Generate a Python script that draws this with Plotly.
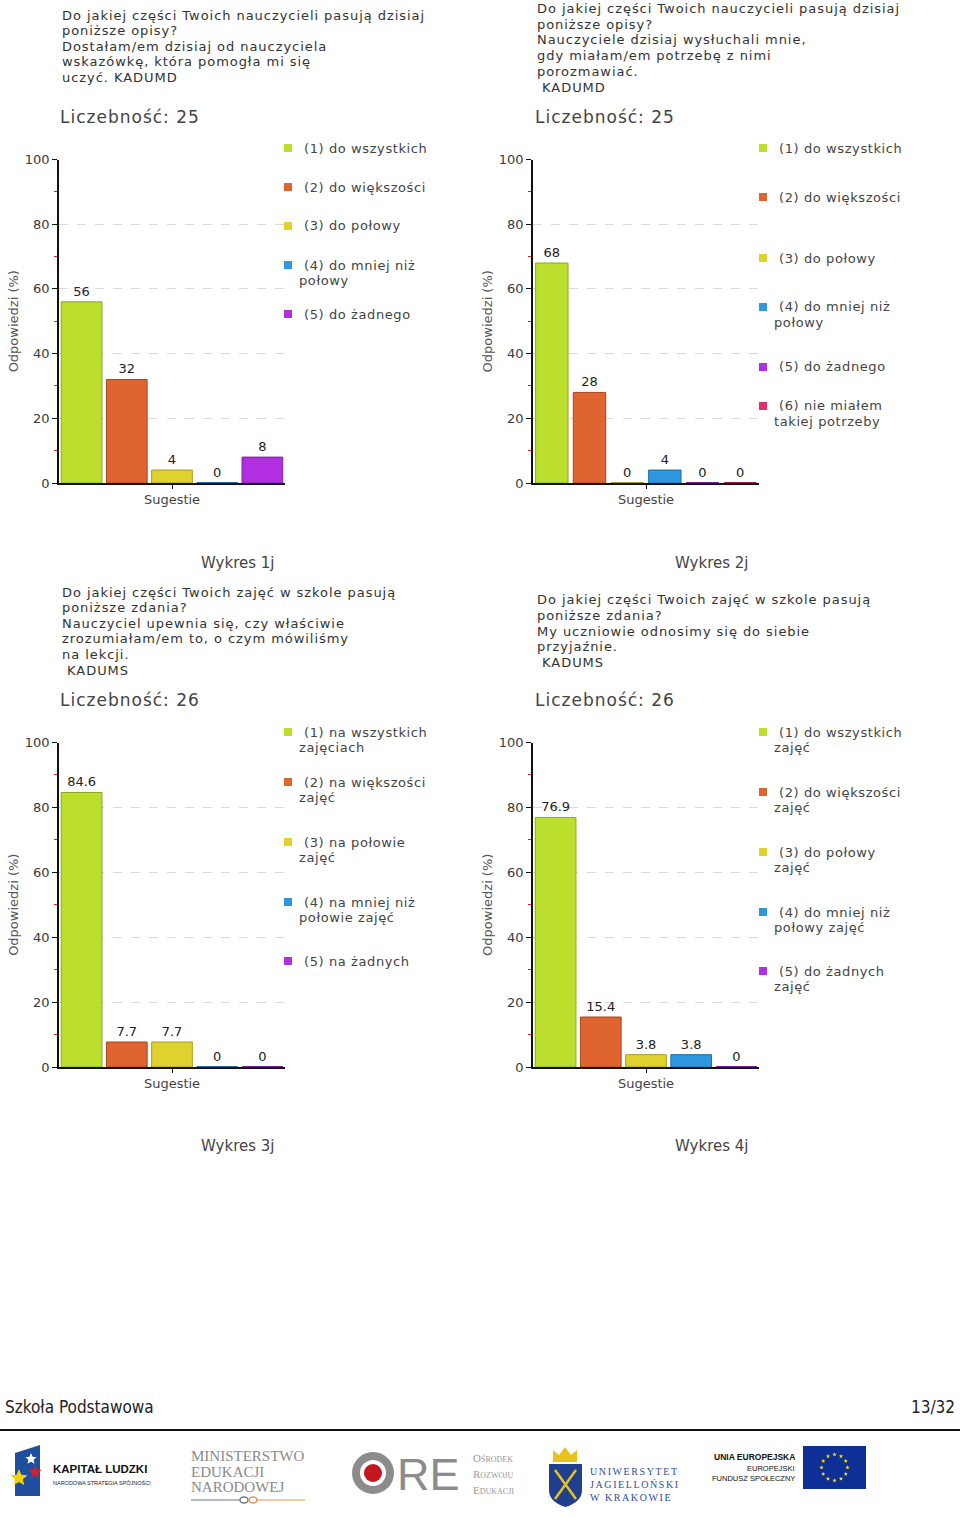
import math
import plotly.graph_objects as go

W, H = 960, 1518

# ---------------- data ----------------
cats1 = ["(1) do wszystkich", "(2) do większości", "(3) do połowy",
         "(4) do mniej niż<br>połowy", "(5) do żadnego"]
vals1 = [56, 32, 4, 0, 8]

cats2 = ["(1) do wszystkich", "(2) do większości", "(3) do połowy",
         "(4) do mniej niż<br>połowy", "(5) do żadnego",
         "(6) nie miałem<br>takiej potrzeby"]
vals2 = [68, 28, 0, 4, 0, 0]

cats3 = ["(1) na wszystkich<br>zajęciach", "(2) na większości<br>zajęć",
         "(3) na połowie<br>zajęć", "(4) na mniej niż<br>połowie zajęć",
         "(5) na żadnych"]
vals3 = [84.6, 7.7, 7.7, 0, 0]

cats4 = ["(1) do wszystkich<br>zajęć", "(2) do większości<br>zajęć",
         "(3) do połowy<br>zajęć", "(4) do mniej niż<br>połowy zajęć",
         "(5) do żadnych<br>zajęć"]
vals4 = [76.9, 15.4, 3.8, 3.8, 0]

counts = [25, 25, 26, 26]
chart_names = ["Wykres 1j", "Wykres 2j", "Wykres 3j", "Wykres 4j"]
x_tick_label = "Sugestie"
y_title = "Odpowiedzi (%)"
y_ticks = [0, 20, 40, 60, 80, 100]

q1 = ["Do jakiej części Twoich nauczycieli pasują dzisiaj", "poniższe opisy?",
      "Dostałam/em dzisiaj od nauczyciela", "wskazówkę, która pomogła mi się",
      "uczyć. KADUMD"]
q2 = ["Do jakiej części Twoich nauczycieli pasują dzisiaj", "poniższe opisy?",
      "Nauczyciele dzisiaj wysłuchali mnie,", "gdy miałam/em potrzebę z nimi",
      "porozmawiać.", "\u00a0KADUMD"]
q3 = ["Do jakiej części Twoich zajęć w szkole pasują", "poniższe zdania?",
      "Nauczyciel upewnia się, czy właściwie", "zrozumiałam/em to, o czym mówiliśmy",
      "na lekcji.", "\u00a0KADUMS"]
q4 = ["Do jakiej części Twoich zajęć w szkole pasują", "poniższe zdania?",
      "My uczniowie odnosimy się do siebie", "przyjaźnie.", "\u00a0KADUMS"]

footer_left = "Szkoła Podstawowa"
footer_right = "13/32"

# ---------------- styles ----------------
FILL = ["#BCDF2E", "#E0642F", "#E0D22E", "#2E97DF", "#B12FE0", "#E02F6D"]
EDGE = ["#8AA81C", "#A8451A", "#A89C18", "#1B6CA8", "#7C1CA6", "#A81C4C"]
FONT = "DejaVu Sans, Verdana, sans-serif"


def px(x):
    return x / W


def py(y):
    return 1 - y / H


def spaced(s, ls):
    return f"<span style='letter-spacing:{ls}px'>{s}</span>"


charts = [
    dict(cats=cats1, vals=vals1, q=q1, x0=59, x1=285, yt=159.5, yb=483, qx=62, qy=15, qs=15.6,
         lx=288, ly=[148, 187, 226, 265, 314], bw=0.9),
    dict(cats=cats2, vals=vals2, q=q2, x0=533, x1=759, yt=159.5, yb=483, qx=537, qy=8.5, qs=15.7,
         lx=763, ly=[148, 197, 258, 307, 367, 406], bw=0.86),
    dict(cats=cats3, vals=vals3, q=q3, x0=59, x1=285, yt=742.5, yb=1067, qx=62, qy=592, qs=15.6,
         lx=288, ly=[732, 782, 842, 902, 961], bw=0.9),
    dict(cats=cats4, vals=vals4, q=q4, x0=533, x1=759, yt=742.5, yb=1067, qx=537, qy=600, qs=15.5,
         lx=763, ly=[732, 792, 852, 912, 971], bw=0.9),
]

fig = go.Figure()
annotations = []
shapes = []

for k, c in enumerate(charts):
    n = len(c["vals"])
    xa = "x" if k == 0 else f"x{k+1}"
    ya = "y" if k == 0 else f"y{k+1}"
    idx = list(range(n))
    fig.add_trace(go.Bar(
        x=idx, y=c["vals"], width=c["bw"],
        marker=dict(color=FILL[:n], line=dict(color=EDGE[:n], width=1)),
        text=[f"{v:g}" for v in c["vals"]], textposition="outside",
        textfont=dict(family=FONT, size=13, color="#222"),
        constraintext="none", cliponaxis=False,
        xaxis=xa, yaxis=ya, showlegend=False, hoverinfo="skip",
    ))
    # zero-valued categories drawn as a thin line on the baseline
    for i, v in enumerate(c["vals"]):
        if v == 0:
            fig.add_trace(go.Scatter(
                x=[i - c["bw"] / 2, i + c["bw"] / 2], y=[v, v], mode="lines",
                line=dict(color=EDGE[i], width=2), xaxis=xa, yaxis=ya,
                showlegend=False, hoverinfo="skip", cliponaxis=False,
            ))

    axkey = "xaxis" if k == 0 else f"xaxis{k+1}"
    aykey = "yaxis" if k == 0 else f"yaxis{k+1}"
    fig.layout[axkey] = dict(
        domain=[px(c["x0"]), px(c["x1"])], range=[-0.5, n - 0.5],
        anchor=ya, showline=True, linecolor="#111", linewidth=1.5,
        tickvals=[(n - 1) / 2], ticktext=[x_tick_label], ticks="outside",
        ticklen=4, tickcolor="#111", showgrid=False, zeroline=False,
        tickfont=dict(family=FONT, size=13, color="#444"), layer="below traces",
        fixedrange=True, automargin=False,
    )
    fig.layout[aykey] = dict(
        domain=[py(c["yb"]), py(c["yt"])], range=[0, 100], anchor=xa,
        showline=True, linecolor="#111", linewidth=1.5,
        tickvals=y_ticks, ticks="outside", ticklen=5, tickcolor="#111",
        tickfont=dict(family=FONT, size=13, color="#3A3A3A"),
        showgrid=True, gridcolor="#DADADA", griddash="dash", gridwidth=1,
        zeroline=False, layer="below traces", fixedrange=True, automargin=False,
        minor=dict(dtick=10, ticks="outside", ticklen=3, tickcolor="#C0282A", showgrid=False),
        title=dict(text=y_title, font=dict(family=FONT, size=13, color="#555"), standoff=3),
    )

    # question text
    for j, line in enumerate(c["q"]):
        annotations.append(dict(
            x=px(c["qx"] - 2), y=py(c["qy"] + j * c["qs"]), xref="paper", yref="paper",
            xanchor="left", yanchor="middle", showarrow=False, text=spaced(line, 0.95),
            font=dict(family=FONT, size=13, color="#333"),
        ))
    annotations.append(dict(
        x=px(c["qx"] - 4), y=py(117 if k < 2 else 700), xref="paper", yref="paper",
        xanchor="left", yanchor="middle", showarrow=False,
        text=spaced(f"Liczebność: {counts[k]}", 1),
        font=dict(family=FONT, size=17, color="#444"),
    ))
    annotations.append(dict(
        x=px((c["x0"] + c["x1"]) / 2 + 66), y=py(563 if k < 2 else 1146),
        xref="paper", yref="paper", xanchor="center", yanchor="middle",
        showarrow=False, text=chart_names[k],
        font=dict(family=FONT, size=15, color="#444"),
    ))

    # legend (squares + labels)
    for i, lab in enumerate(c["cats"]):
        yy = c["ly"][i]
        shapes.append(dict(
            type="rect", xref="paper", yref="paper",
            x0=px(c["lx"] - 4), x1=px(c["lx"] + 4), y0=py(yy + 4), y1=py(yy - 4),
            fillcolor=FILL[i], line=dict(width=0),
        ))
        for j, part in enumerate(lab.split("<br>")):
            annotations.append(dict(
                x=px(c["lx"] + (14 if j == 0 else 9)), y=py(yy + j * 15.6),
                xref="paper", yref="paper", xanchor="left", yanchor="middle",
                showarrow=False, text=spaced(part, 0.6),
                font=dict(family=FONT, size=13, color="#444"),
            ))

# ---------------- footer ----------------
annotations.append(dict(x=px(3), y=py(1407), xref="paper", yref="paper", xanchor="left",
                        yanchor="middle", showarrow=False, text=footer_left,
                        font=dict(family="DejaVu Sans Condensed, Liberation Sans, sans-serif",
                                  size=17, color="#222")))
annotations.append(dict(x=px(957), y=py(1407), xref="paper", yref="paper", xanchor="right",
                        yanchor="middle", showarrow=False, text=footer_right,
                        font=dict(family="DejaVu Sans Condensed, Liberation Sans, sans-serif",
                                  size=17, color="#222")))
shapes.append(dict(type="line", xref="paper", yref="paper", x0=0, x1=1, y0=py(1430), y1=py(1430),
                   line=dict(color="#111", width=2)))


def star_path(cx, cy, r):
    pts = []
    for m in range(10):
        a = -math.pi / 2 + m * math.pi / 5
        rr = r if m % 2 == 0 else r * 0.45
        pts.append((cx + rr * math.cos(a), cy + rr * math.sin(a)))
    return "M" + " L".join(f"{px(a):.5f},{py(b):.5f}" for a, b in pts) + " Z"


def rect(x0, y0, x1, y1, color):
    shapes.append(dict(type="rect", xref="paper", yref="paper", x0=px(x0), x1=px(x1),
                       y0=py(y1), y1=py(y0), fillcolor=color, line=dict(width=0)))


def txt(x, y, s, size, color, family, anchor="left", bold=False):
    annotations.append(dict(x=px(x), y=py(y), xref="paper", yref="paper", xanchor=anchor,
                            yanchor="middle", showarrow=False,
                            text=f"<b>{s}</b>" if bold else s,
                            font=dict(family=family, size=size, color=color)))


# Kapitał Ludzki
shapes.append(dict(type="path", xref="paper", yref="paper",
                   path=f"M{px(15)},{py(1453)} L{px(40)},{py(1445)} L{px(40)},{py(1496)} L{px(15)},{py(1496)} Z",
                   fillcolor="#1F4E9E", line=dict(width=0)))
shapes.append(dict(type="path", xref="paper", yref="paper", path=star_path(31, 1459, 6),
                   fillcolor="white", line=dict(width=0)))
shapes.append(dict(type="path", xref="paper", yref="paper", path=star_path(35, 1472, 7),
                   fillcolor="#D0202E", line=dict(width=0)))
shapes.append(dict(type="path", xref="paper", yref="paper", path=star_path(19, 1478, 9),
                   fillcolor="#F5D000", line=dict(width=0)))
txt(51, 1469, "KAPITAŁ LUDZKI", 11.5, "#111", "Liberation Sans", bold=True)
txt(51, 1482, "NARODOWA STRATEGIA SPÓJNOŚCI", 5.5, "#222", "Liberation Sans")

# MEN
for j, s in enumerate(["MINISTERSTWO", "EDUKACJI", "NARODOWEJ"]):
    txt(189, 1456 + j * 15.5, s, 15, "#8A8A8A", "Liberation Serif")
shapes.append(dict(type="line", xref="paper", yref="paper", x0=px(191), x1=px(240),
                   y0=py(1500), y1=py(1500), line=dict(color="#9AA4B0", width=1.5)))
shapes.append(dict(type="line", xref="paper", yref="paper", x0=px(256), x1=px(305),
                   y0=py(1500), y1=py(1500), line=dict(color="#E8B98A", width=1.5)))
shapes.append(dict(type="circle", xref="paper", yref="paper", x0=px(240), x1=px(248),
                   y0=py(1503), y1=py(1497), line=dict(color="#6C7A90", width=1.5)))
shapes.append(dict(type="circle", xref="paper", yref="paper", x0=px(249), x1=px(257),
                   y0=py(1503), y1=py(1497), line=dict(color="#E09A60", width=1.5)))

# ORE
shapes.append(dict(type="circle", xref="paper", yref="paper", x0=px(356), x1=px(390),
                   y0=py(1490), y1=py(1456), line=dict(color="#8C8C8C", width=8)))
shapes.append(dict(type="circle", xref="paper", yref="paper", x0=px(364), x1=px(382),
                   y0=py(1482), y1=py(1464), fillcolor="#C4161C", line=dict(width=0)))
txt(395, 1474, "RE", 45, "#8C8C8C", "Liberation Sans")
for j, (a, b) in enumerate([("O", "ŚRODEK"), ("R", "OZWOJU"), ("E", "DUKACJI")]):
    txt(471, 1458 + j * 16, f"{a}<span style='font-size:8px'>{b}</span>", 11, "#9A9A9A",
        "Liberation Serif")

# UJ
shapes.append(dict(type="path", xref="paper", yref="paper",
                   path=(f"M{px(553)},{py(1462)} L{px(553)},{py(1450)} L{px(559)},{py(1455)} "
                         f"L{px(565)},{py(1447)} L{px(571)},{py(1455)} L{px(577)},{py(1450)} "
                         f"L{px(577)},{py(1462)} Z"),
                   fillcolor="#E8C21E", line=dict(width=0)))
shapes.append(dict(type="path", xref="paper", yref="paper",
                   path=(f"M{px(549)},{py(1464)} L{px(582)},{py(1464)} L{px(582)},{py(1490)} "
                         f"Q{px(582)},{py(1502)} {px(565.5)},{py(1507)} "
                         f"Q{px(549)},{py(1502)} {px(549)},{py(1490)} Z"),
                   fillcolor="#1F3F8F", line=dict(width=0)))
shapes.append(dict(type="line", xref="paper", yref="paper", x0=px(555), x1=px(576),
                   y0=py(1470), y1=py(1499), line=dict(color="#E8C21E", width=2.5)))
shapes.append(dict(type="line", xref="paper", yref="paper", x0=px(576), x1=px(555),
                   y0=py(1470), y1=py(1499), line=dict(color="#E8C21E", width=2.5)))
for j, s in enumerate(["UNIWERSYTET", "JAGIELLOŃSKI", "W KRAKOWIE"]):
    txt(588, 1471 + j * 13, spaced(s, 1.6), 10, "#2B4C9B", "Liberation Serif")

# EU
txt(797, 1457, "UNIA EUROPEJSKA", 8.5, "#111", "Liberation Sans", anchor="right", bold=True)
txt(797, 1468, "EUROPEJSKI", 7.5, "#111", "Liberation Sans", anchor="right")
txt(797, 1478, "FUNDUSZ SPOŁECZNY", 7.5, "#111", "Liberation Sans", anchor="right")
rect(803, 1446, 866, 1489, "#0E3096")
for m in range(12):
    a = m * math.pi / 6
    cx, cy = 834.5 + 13 * math.cos(a), 1467.5 + 13 * math.sin(a)
    shapes.append(dict(type="path", xref="paper", yref="paper", path=star_path(cx, cy, 2.2),
                       fillcolor="#FFDD00", line=dict(width=0)))

fig.update_layout(
    width=W, height=H, margin=dict(l=0, r=0, t=0, b=0, autoexpand=False),
    paper_bgcolor="white", plot_bgcolor="white",
    annotations=annotations, shapes=shapes, showlegend=False,
    font=dict(family=FONT),
)

fig.write_html(
    "out.html",
    config={"displayModeBar": False},
    post_script="document.body.style.margin='0px';document.body.style.overflow='hidden';",
)
